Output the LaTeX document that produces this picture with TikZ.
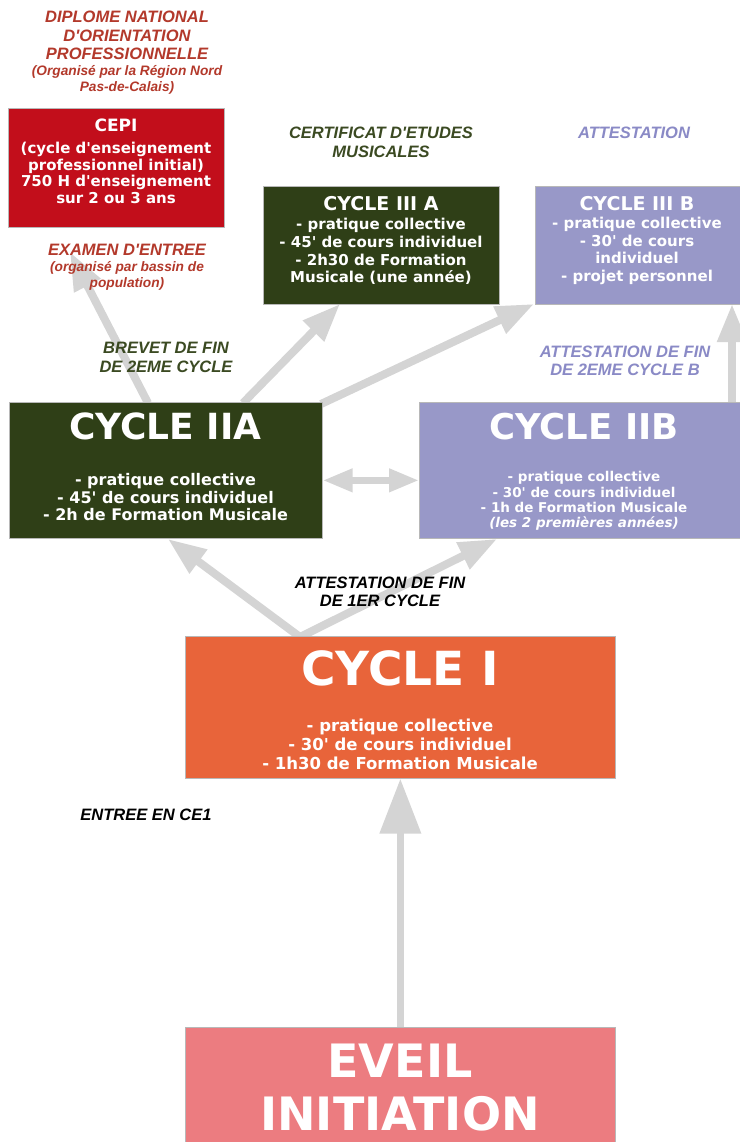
\documentclass[tikz,border=0pt]{standalone}
\usepackage{fontspec}
\setmainfont{DejaVu Sans}[Ligatures=TeXOff]
\newfontfamily\labfont{Liberation Sans}[Ligatures=TeXOff]
\usetikzlibrary{arrows.meta}
\pgfdeclarelayer{bgzero}
\pgfdeclarelayer{background}
\pgfsetlayers{bgzero,background,main}
\definecolor{cepired}{HTML}{C20E1B}
\definecolor{dkgreen}{HTML}{2F3F17}
\definecolor{lav}{HTML}{9898C8}
\definecolor{orng}{HTML}{E8643A}
\definecolor{pnk}{HTML}{EC7C80}
\definecolor{labred}{HTML}{B3392B}
\definecolor{labgreen}{HTML}{3B4A22}
\definecolor{labpurple}{HTML}{8A8AC6}
\definecolor{arrgray}{HTML}{D4D4D4}
\begin{document}
\begin{tikzpicture}[x=1pt,y=-1pt,
  cbox/.style={draw=black!28, line width=0.7pt, inner sep=0pt, anchor=north west},
  ttl/.style={text=white, font=\bfseries\fontsize{#1}{#1}\selectfont, anchor=base, inner sep=0pt},
  bodytxt/.style 2 args={text=white, font=\bfseries\fontsize{#1}{#2}\selectfont, align=center, inner sep=0pt},
  lbl/.style 2 args={font=\labfont\bfseries\itshape\fontsize{#1}{#2}\selectfont, align=center, inner sep=0pt},
  arr/.style={draw=arrgray, line width=8pt, -{Triangle[width=28pt,length=38pt]}},
  bigarr/.style={draw=arrgray, line width=7.5pt, -{Triangle[width=40pt,length=55pt]}},
  dblarr/.style={draw=arrgray, line width=7pt, {Triangle[width=22pt,length=30pt]}-{Triangle[width=22pt,length=30pt]}}
]
\useasboundingbox (0,0) rectangle (739,1142);
\begin{pgfonlayer}{bgzero}
\fill[white] (0,0) rectangle (739,1142);
\end{pgfonlayer}

% boxes
\node[cbox, fill=cepired, minimum width=216pt, minimum height=119pt] (cepi) at (8,108) {};
\node[cbox, fill=dkgreen, minimum width=236pt, minimum height=118pt] (c3a) at (263,186) {};
\node[cbox, fill=lav, minimum width=212pt, minimum height=118pt] (c3b) at (535,186) {};
\node[cbox, fill=dkgreen, minimum width=313pt, minimum height=136pt] (c2a) at (9,402) {};
\node[cbox, fill=lav, minimum width=330pt, minimum height=136pt] (c2b) at (419,402) {};
\node[cbox, fill=orng, minimum width=430pt, minimum height=142pt] (c1) at (185,636) {};
\node[cbox, fill=pnk, minimum width=430pt, minimum height=130pt] (ev) at (185,1027) {};

% connector end points
\coordinate (c1up) at (300,637);
\coordinate (c2atip) at (168,539);
\coordinate (c2btip) at (497,539);
\coordinate (c2aupl) at (148,403);
\coordinate (cepitip) at (70,252);
\coordinate (c2aupm) at (243,403);
\coordinate (c3atip) at (340,304);
\coordinate (c2acorner) at (321,404);
\coordinate (c3btip) at (534,304);
\coordinate (c2bup) at (732,403);
\coordinate (c3bdn) at (732,304);

\begin{pgfonlayer}{background}
\draw[bigarr] (ev.north) -- (c1.south);
\draw[arr] (c1up) -- (c2atip);
\draw[arr] (c1up) -- (c2btip);
\draw[arr] (c2aupl) -- (cepitip);
\draw[arr] (c2aupm) -- (c3atip);
\draw[arr] (c2acorner) -- (c3btip);
\draw[arr] (c2bup) -- (c3bdn);
\draw[dblarr] ([yshift=-10pt]c2a.east) -- ([yshift=-10pt]c2b.west);
\end{pgfonlayer}

% labels
\node[lbl={16.5}{18.5}, text=labred] (dnop) at (127,35.5) {DIPLOME NATIONAL\\D'ORIENTATION\\PROFESSIONNELLE};
\node[lbl={13.7}{16}, text=labred] (dnopsub) at (127,80) {(Organisé par la Région Nord\\Pas-de-Calais)};
\node[lbl={16.5}{18.5}, text=labred] (exam) at (127,250) {EXAMEN D'ENTREE};
\node[lbl={13.7}{15.5}, text=labred] (examsub) at (127,276) {(organisé par bassin de\\population)};
\node[lbl={16.5}{19}, text=labgreen] (cert) at (381,142) {CERTIFICAT D'ETUDES\\MUSICALES};
\node[lbl={16.5}{18.5}, text=labpurple] (attest) at (634,133) {ATTESTATION};
\node[lbl={16.5}{19}, text=labgreen] (brevet) at (166,357.5) {BREVET DE FIN\\DE 2EME CYCLE};
\node[lbl={16.5}{18.5}, text=labpurple] (attestb) at (625,361) {ATTESTATION DE FIN\\DE 2EME CYCLE B};
\node[lbl={16.5}{18.5}, text=black] (attest1) at (380,592) {ATTESTATION DE FIN\\DE 1ER CYCLE};
\node[lbl={16.5}{18}, text=black] (entree) at (146,815) {ENTREE EN CE1};

% box texts
\node[ttl={17}] (cepit) at (116,132) {CEPI};
\node[bodytxt={15}{16.7}] (cepib) at (116,173) {(cycle d'enseignement\\professionnel initial)\\750 H d'enseignement\\sur 2 ou 3 ans};
\node[ttl={19}] (c3at) at (381,210) {CYCLE III A};
\node[bodytxt={15}{17.7}] (c3ab) at (381,251.5) {- pratique collective\\- 45' de cours individuel\\- 2h30 de Formation\\Musicale (une année)};
\node[ttl={19}] (c3bt) at (637,210) {CYCLE III B};
\node[bodytxt={15}{17.7}] (c3bb) at (637,251) {- pratique collective\\- 30' de cours\\individuel\\- projet personnel};
\node[ttl={36}] (c2at) at (165.5,439) {CYCLE IIA};
\node[bodytxt={16}{17.5}] (c2ab) at (165.5,497.5) {- pratique collective\\- 45' de cours individuel\\- 2h de Formation Musicale};
\node[ttl={35.5}] (c2bt) at (584,439) {CYCLE IIB};
\node[bodytxt={13.5}{15.3}] (c2bb) at (584,501) {- pratique collective\\- 30' de cours individuel\\- 1h de Formation Musicale\\\textit{(les 2 premières années)}};
\node[ttl={47}] (c1t) at (400,685) {CYCLE I};
\node[bodytxt={16.5}{19}] (c1b) at (400,744) {- pratique collective\\- 30' de cours individuel\\- 1h30 de Formation Musicale};
\node[ttl={46}] (evt) at (400,1077) {EVEIL};
\node[ttl={46}] (evt2) at (400,1130) {INITIATION};
\end{tikzpicture}
\end{document}
